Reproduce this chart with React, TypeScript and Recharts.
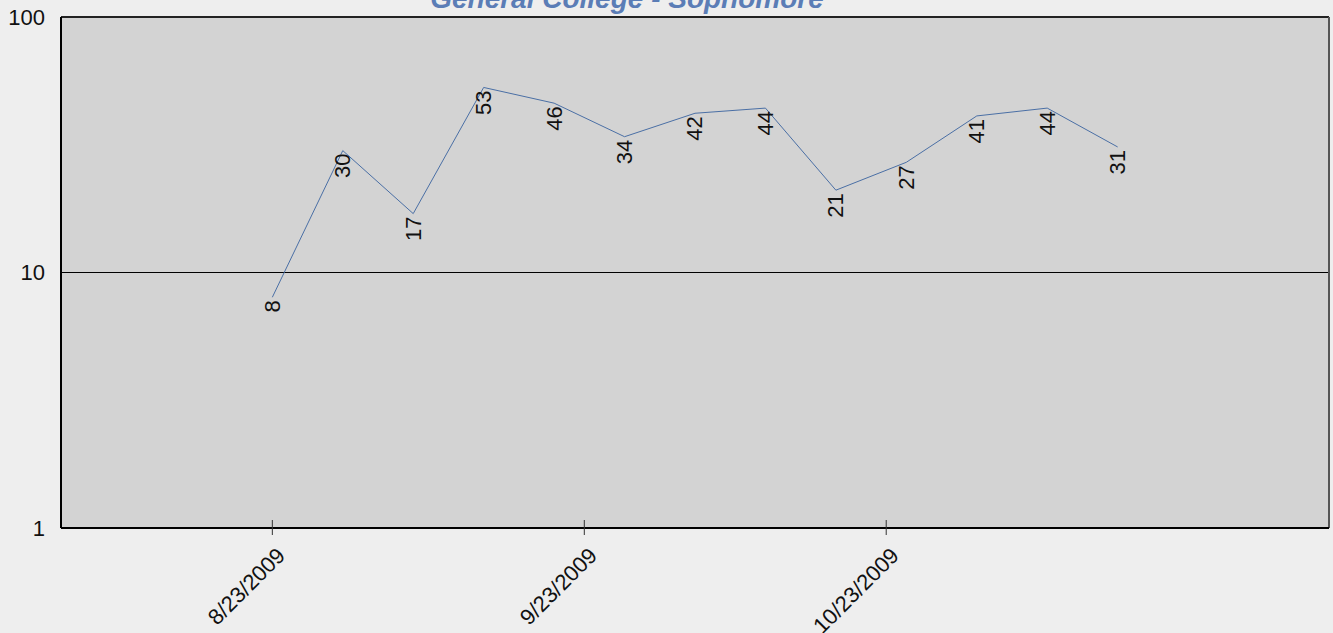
import React from 'react';
import { LineChart, Line, XAxis, YAxis, CartesianGrid, ReferenceLine } from 'recharts';

const dates = ['8/23/2009', '8/30/2009', '9/6/2009', '9/13/2009', '9/20/2009', '9/27/2009', '10/4/2009',
  '10/11/2009', '10/18/2009', '10/25/2009', '11/1/2009', '11/8/2009', '11/15/2009'];
const counts = [8, 30, 17, 53, 46, 34, 42, 44, 21, 27, 41, 44, 31];
const tickDates = ['8/23/2009', '9/23/2009', '10/23/2009'];
const yTicks = [1, 10, 100];
const rangeStart = '8/2/2009';
const rangeEnd = '12/6/2009';

// day number from m/d/yyyy
const toDay = (s: string) => {
  const [m, d, y] = s.split('/').map(Number);
  return Date.UTC(y, m - 1, d) / 86400000;
};

const data = dates.map((d, i) => ({ t: toDay(d), value: counts[i] }));
const dayLabel: Record<number, string> = {};
tickDates.forEach((d) => { dayLabel[toDay(d)] = d; });

const FONT = 'Arial, "Liberation Sans", sans-serif';

const DateTick = (props: any) => {
  const { x, y, payload } = props;
  const ax = x + 14;
  const ay = y + 29;
  return (
    <g>
      <line x1={x} x2={x} y1={y - 8} y2={y + 7} stroke="#333" strokeWidth={1} />
      <text
        x={ax}
        y={ay}
        transform={`rotate(-45, ${ax}, ${ay})`}
        textAnchor="end"
        fontSize={22}
        fontFamily={FONT}
        fill="#111"
      >
        {dayLabel[payload.value]}
      </text>
    </g>
  );
};

const ValueLabel = (props: any) => {
  const { x, y, value } = props;
  const ty = y + 3;
  return (
    <text
      x={x}
      y={ty}
      transform={`rotate(-90, ${x}, ${ty})`}
      textAnchor="end"
      dominantBaseline="central"
      fontSize={22}
      fontFamily={FONT}
      fill="#111"
    >
      {value}
    </text>
  );
};

export default function App() {
  return (
    <div style={{ position: 'absolute', left: 0, top: 0, width: 1333, height: 633, background: '#eeeeee', overflow: 'hidden' }}>
      <LineChart width={1333} height={633} data={data} margin={{ top: 17, right: 4, bottom: 0, left: 0 }}>
        <CartesianGrid fill="#d3d3d3" horizontal={false} vertical={false} />
        <XAxis
          dataKey="t"
          type="number"
          domain={[toDay(rangeStart), toDay(rangeEnd)]}
          ticks={tickDates.map(toDay)}
          tick={<DateTick />}
          tickLine={false}
          tickSize={0}
          tickMargin={0}
          height={105}
          axisLine={{ stroke: '#000', strokeWidth: 2 }}
          allowDataOverflow
        />
        <YAxis
          scale="log"
          domain={[1, 100]}
          ticks={yTicks}
          width={61}
          tickLine={false}
          tickSize={0}
          tickMargin={16}
          axisLine={{ stroke: '#000', strokeWidth: 2 }}
          tick={{ fontSize: 22, fontFamily: FONT, fill: '#111' }}
          allowDataOverflow
        />
        <ReferenceLine y={10} stroke="#000" strokeWidth={1} />
        <ReferenceLine y={100} stroke="#222" strokeWidth={2} />
        <ReferenceLine x={toDay(rangeEnd)} stroke="#555" strokeWidth={2} />
        <Line
          type="linear"
          dataKey="value"
          stroke="#4a6fa5"
          strokeWidth={1}
          dot={false}
          isAnimationActive={false}
          label={<ValueLabel />}
        />
      </LineChart>
      <svg width={1333} height={20} style={{ position: 'absolute', left: 0, top: 0 }}>
        <text
          x={627}
          y={8}
          textAnchor="middle"
          fontFamily={FONT}
          fontWeight="bold"
          fontStyle="italic"
          fontSize={28}
          fill="#5b7db6"
        >
          General College - Sophomore
        </text>
      </svg>
    </div>
  );
}
